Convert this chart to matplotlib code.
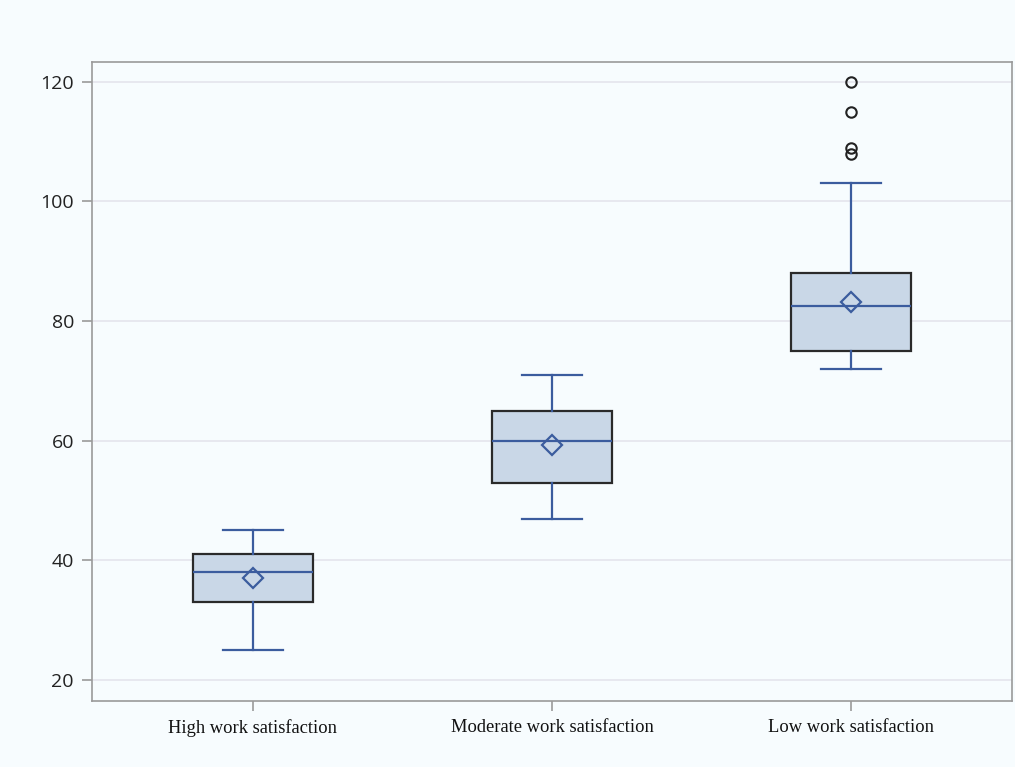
import matplotlib
matplotlib.use("Agg")
import matplotlib.pyplot as plt

categories = ["High work satisfaction", "Moderate work satisfaction", "Low work satisfaction"]
whisker_low = [25, 47, 72]
q1 = [33, 53, 75]
medians = [38, 60, 82.5]
q3 = [41, 65, 88]
whisker_high = [45, 71, 103]
means = [37.1, 59.3, 83.2]
outliers = [[], [], [108, 109, 115, 120]]
yticks = [20, 40, 60, 80, 100, 120]

bg = "#F7FCFE"
line_c = "#3B5C9E"
fig = plt.figure(figsize=(10.15, 7.67), dpi=100, facecolor=bg)
ax = fig.add_axes([92/1015, 1-701/767, 920/1015, 639/767], facecolor=bg)

stats = []
for i, c in enumerate(categories):
    stats.append(dict(label=c, whislo=whisker_low[i], q1=q1[i], med=medians[i],
                      q3=q3[i], whishi=whisker_high[i], mean=means[i], fliers=outliers[i]))

positions = [1, 2, 3]
ax.bxp(stats, positions=positions, widths=0.40, patch_artist=True, showmeans=True,
       boxprops=dict(facecolor="#C9D7E7", edgecolor="#2A2A2A", linewidth=1.6),
       medianprops=dict(color=line_c, linewidth=1.6),
       whiskerprops=dict(color=line_c, linewidth=1.6),
       capprops=dict(color=line_c, linewidth=1.6),
       capwidths=0.2,
       meanprops=dict(marker="D", markersize=10, markerfacecolor="none",
                      markeredgecolor=line_c, markeredgewidth=1.6),
       flierprops=dict(marker="o", markersize=7.5, markerfacecolor="none",
                       markeredgecolor="#222222", markeredgewidth=1.5),
       zorder=3)

ax.set_xlim(0.462, 3.538)
ax.set_ylim(16.5, 123.3)
ax.set_yticks(yticks)
ax.set_yticklabels([str(v) for v in yticks], fontsize=14, family="Open Sans", color="#222222")
ax.set_xticks(positions)
ax.set_xticklabels(categories, fontsize=13.3, family="Liberation Serif", color="#111111")
ax.grid(axis="y", color="#E4E4EC", linewidth=1.2, zorder=0)
ax.set_axisbelow(True)
for s in ax.spines.values():
    s.set_color("#9A9A9A")
    s.set_linewidth(1.2)
ax.tick_params(axis="both", color="#9A9A9A", length=7, width=1.2)
ax.tick_params(axis="y", pad=6)
ax.tick_params(axis="x", pad=6)

fig.savefig("out.png", dpi=100, facecolor=bg)
